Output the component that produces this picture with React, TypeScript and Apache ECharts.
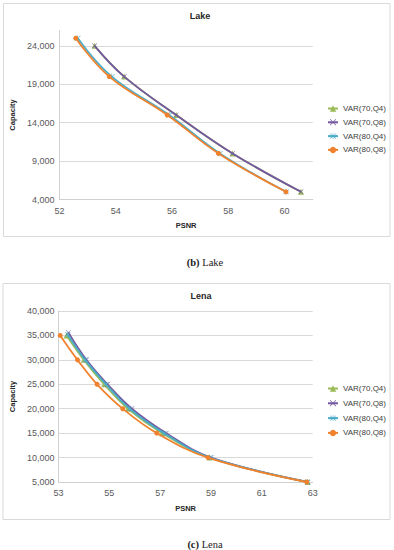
import React, { useEffect, useRef } from "react";
import * as echarts from "echarts";

const seriesNames = ["VAR(70,Q4)", "VAR(70,Q8)", "VAR(80,Q4)", "VAR(80,Q8)"];
const seriesColors = ["#9BBB59", "#7358A0", "#4BACC6", "#F0822E"];

// Lake
const lakeXTicks = [52, 54, 56, 58, 60];
const lakeYTicks = [4000, 9000, 14000, 19000, 24000];
const lake70Q4X = [53.25, 54.3, 56.15, 58.15, 60.58];
const lake70Q4Y = [24000, 20000, 15000, 10000, 5000];
const lake70Q8X = [53.25, 54.3, 56.15, 58.15, 60.58];
const lake70Q8Y = [24000, 20000, 15000, 10000, 5000];
const lake80Q4X = [52.65, 53.86, 55.9, 57.7, 60.05];
const lake80Q4Y = [25000, 20000, 15000, 10000, 5000];
const lake80Q8X = [52.58, 53.77, 55.83, 57.65, 60.05];
const lake80Q8Y = [25000, 20000, 15000, 10000, 5000];

// Lena
const lenaXTicks = [53, 55, 57, 59, 61, 63];
const lenaYTicks = [5000, 10000, 15000, 20000, 25000, 30000, 35000, 40000];
const lena70Q4X = [53.32, 54.0, 54.8, 55.73, 57.08, 58.95, 62.8];
const lena70Q4Y = [35000, 30000, 25000, 20000, 15000, 10000, 5000];
const lena70Q8X = [53.39, 54.1, 54.93, 55.89, 57.24, 59.0, 62.8];
const lena70Q8Y = [35600, 30000, 25000, 20000, 15000, 10000, 5000];
const lena80Q4X = [53.36, 54.05, 54.87, 55.8, 57.15, 58.95, 62.8];
const lena80Q4Y = [35200, 30000, 25000, 20000, 15000, 10000, 5000];
const lena80Q8X = [53.07, 53.75, 54.52, 55.53, 56.87, 58.88, 62.77];
const lena80Q8Y = [35000, 30000, 25000, 20000, 15000, 10000, 5000];

const FONT = "'Liberation Sans', Arial, sans-serif";
const SERIF = "'Liberation Serif', 'Times New Roman', serif";

const xMarker = "path://M0,0.7L0.7,0L5,4.3L9.3,0L10,0.7L5.7,5L10,9.3L9.3,10L5,5.7L0.7,10L0,9.3L4.3,5Z";
const starMarker =
  "path://M0,0.8L0.8,0L5,4.2L9.2,0L10,0.8L5.8,5L10,9.2L9.2,10L5,5.8L0.8,10L0,9.2L4.2,5Z M4.6,-1L5.4,-1L5.4,11L4.6,11Z";
const symbols = ["triangle", xMarker, starMarker, "circle"];
const symbolSizes = [6, 5, 6, 5];

const zip = (xs: number[], ys: number[]) => xs.map((x, i) => [x, ys[i]]);
const fmt = (v: number) => v.toLocaleString("en-US");

export default function App() {
  const ref = useRef<HTMLDivElement>(null);
  useEffect(() => {
    if (!ref.current) return;
    const chart = echarts.init(ref.current, null, { renderer: "svg" });

    const lakeData = [zip(lake70Q4X, lake70Q4Y), zip(lake70Q8X, lake70Q8Y), zip(lake80Q4X, lake80Q4Y), zip(lake80Q8X, lake80Q8Y)];
    const lenaData = [zip(lena70Q4X, lena70Q4Y), zip(lena70Q8X, lena70Q8Y), zip(lena80Q4X, lena80Q4Y), zip(lena80Q8X, lena80Q8Y)];

    const mkSeries = (data: number[][], i: number, gi: number) => ({
      type: "line",
      name: seriesNames[i],
      xAxisIndex: gi,
      yAxisIndex: gi,
      data,
      smooth: 0.4,
      symbol: symbols[i],
      symbolSize: symbolSizes[i],
      showSymbol: true,
      clip: false,
      lineStyle: { color: seriesColors[i], width: 1.8 },
      itemStyle: { color: seriesColors[i] },
      z: 3 + i,
    });

    const series: any[] = [];
    lakeData.forEach((d, i) => series.push(mkSeries(d, i, 0)));
    lenaData.forEach((d, i) => series.push(mkSeries(d, i, 1)));
    // Lake gridlines (no line at the axis top)
    series[0].markLine = {
      silent: true,
      symbol: "none",
      z: 1,
      label: { show: false },
      lineStyle: { color: "#d9d9d9", width: 1, type: "solid" },
      emphasis: { disabled: true },
      data: lakeYTicks.slice(1).map((v) => ({ yAxis: v })),
    };

    const axisLabel = { color: "#595959", fontFamily: FONT, fontSize: 9 };
    const axisLine = { show: true, lineStyle: { color: "#d0d0d0", width: 1 } };
    const nameStyle = { color: "#262626", fontFamily: FONT, fontSize: 7.5, fontWeight: "bold" };

    const legendBase = {
      orient: "vertical",
      left: 327,
      padding: 0,
      itemWidth: 10,
      itemHeight: 8,
      textStyle: { color: "#404040", fontFamily: FONT, fontSize: 8 },
      data: seriesNames,
      selectedMode: false,
    };

    chart.setOption({
      animation: false,
      backgroundColor: "#ffffff",
      title: [
        { text: "Lake", left: 195, top: 6, textAlign: "center", textStyle: { fontFamily: FONT, fontSize: 9, fontWeight: "bold", color: "#262626" } },
        { text: "Lena", left: 196, top: 286, textAlign: "center", textStyle: { fontFamily: FONT, fontSize: 9, fontWeight: "bold", color: "#262626" } },
      ],
      legend: [
        { ...legendBase, top: 104.5, itemGap: 5.8 },
        { ...legendBase, top: 384.5, itemGap: 6.8 },
      ],
      grid: [
        { left: 54, top: 30.5, width: 258.75, height: 169 },
        { left: 53.3, top: 311, width: 259.4, height: 171 },
      ],
      xAxis: [
        {
          type: "value", gridIndex: 0, min: 52, max: 61, interval: 1,
          name: "PSNR", nameLocation: "middle", nameGap: 22, nameTextStyle: nameStyle,
          axisLine, axisTick: { show: false }, splitLine: { show: false },
          axisLabel: { ...axisLabel, margin: 7, formatter: (v: number) => (lakeXTicks.includes(v) ? String(v) : "") },
        },
        {
          type: "value", gridIndex: 1, min: 53, max: 63, interval: 1,
          name: "PSNR", nameLocation: "middle", nameGap: 22, nameTextStyle: nameStyle,
          axisLine, axisTick: { show: false }, splitLine: { show: false },
          axisLabel: { ...axisLabel, margin: 6, formatter: (v: number) => (lenaXTicks.includes(v) ? String(v) : "") },
        },
      ],
      yAxis: [
        {
          type: "value", gridIndex: 0, min: 4000, max: 26000, interval: 1000,
          name: "Capacity", nameLocation: "middle", nameGap: 27, nameTextStyle: nameStyle,
          axisLine, axisTick: { show: false }, splitLine: { show: false },
          axisLabel: { ...axisLabel, margin: 5, formatter: (v: number) => (lakeYTicks.includes(v) ? fmt(v) : "") },
        },
        {
          type: "value", gridIndex: 1, min: 5000, max: 40000, interval: 5000,
          name: "Capacity", nameLocation: "middle", nameGap: 28.5, nameTextStyle: nameStyle,
          axisLine, axisTick: { show: false },
          splitLine: { show: true, lineStyle: { color: "#d9d9d9", width: 1 } },
          axisLabel: { ...axisLabel, margin: 4, formatter: (v: number) => (lenaYTicks.includes(v) ? fmt(v) : "") },
        },
      ],
      graphic: [
        { type: "rect", shape: { x: 3.5, y: 3.5, width: 386.5, height: 233 }, style: { fill: "none", stroke: "#d9d9d9", lineWidth: 1 }, silent: true },
        { type: "rect", shape: { x: 3, y: 283.5, width: 387, height: 236 }, style: { fill: "none", stroke: "#d9d9d9", lineWidth: 1 }, silent: true },
        {
          type: "text", x: 205, y: 262, silent: true,
          style: {
            text: "{b|(b)} {n|Lake}", align: "center", verticalAlign: "middle",
            rich: {
              b: { fontFamily: SERIF, fontSize: 10.5, fontWeight: "bold", fill: "#1a1a1a" },
              n: { fontFamily: SERIF, fontSize: 10.5, fill: "#1a1a1a" },
            },
            fontFamily: SERIF, fontSize: 10.5, fill: "#1a1a1a",
          },
        },
        {
          type: "text", x: 205, y: 544, silent: true,
          style: {
            text: "{b|(c)} {n|Lena}", align: "center", verticalAlign: "middle",
            rich: {
              b: { fontFamily: SERIF, fontSize: 10.5, fontWeight: "bold", fill: "#1a1a1a" },
              n: { fontFamily: SERIF, fontSize: 10.5, fill: "#1a1a1a" },
            },
            fontFamily: SERIF, fontSize: 10.5, fill: "#1a1a1a",
          },
        },
      ],
      series,
    });

    return () => chart.dispose();
  }, []);

  return <div ref={ref} style={{ position: "absolute", left: 0, top: 0, width: 394, height: 550 }} />;
}
